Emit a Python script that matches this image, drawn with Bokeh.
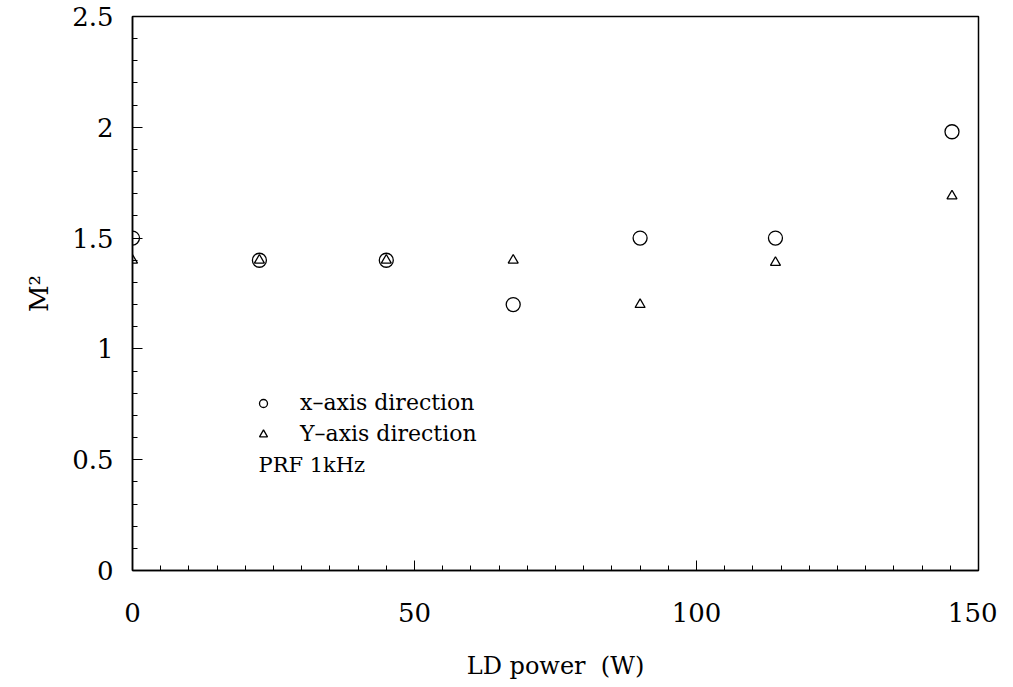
from bokeh.plotting import figure
from bokeh.models import Range1d, Legend, LegendItem, Label, FixedTicker
from bokeh.embed import file_html
from bokeh.resources import INLINE

# data
power_x = [0, 22.5, 45, 67.5, 90, 114, 145.3]
m2_x = [1.5, 1.4, 1.4, 1.2, 1.5, 1.5, 1.98]
power_y = [0, 22.5, 45, 67.5, 90, 114, 145.3]
m2_y = [1.4, 1.4, 1.4, 1.4, 1.2, 1.39, 1.69]
x_ticks = [0, 50, 100, 150]
y_ticks = [0, 0.5, 1, 1.5, 2, 2.5]
label_x = "x\u2013axis direction"
label_y = "Y\u2013axis direction"
note = "PRF 1kHz"

FONT = "DejaVu Serif"

p = figure(width=997, height=682, output_backend="svg", toolbar_location=None,
           x_range=Range1d(0, 150), y_range=Range1d(0, 2.5),
           min_border_left=132, min_border_top=16, min_border_right=19, min_border_bottom=111)
p.grid.visible = False
p.outline_line_color = "black"
p.outline_line_width = 1.5
p.background_fill_color = "white"
p.border_fill_color = "white"

r1 = p.scatter(power_x, m2_x, marker="circle", size=14, fill_color=None,
               line_color="black", line_width=1.3)
r2 = p.scatter(power_y, m2_y, marker="triangle", size=10, fill_color=None,
               line_color="black", line_width=1.3)

for ax in (p.xaxis[0], p.yaxis[0]):
    ax.axis_line_width = 1.5
    ax.axis_line_color = "black"
    ax.major_tick_in = 10
    ax.major_tick_out = 0
    ax.minor_tick_in = 5
    ax.minor_tick_out = 0
    ax.major_tick_line_color = "black"
    ax.minor_tick_line_color = "black"
    ax.major_label_text_font = FONT
    ax.major_label_text_font_size = "26px"
    ax.major_label_text_color = "black"
    ax.axis_label_text_font = FONT
    ax.axis_label_text_font_style = "normal"
    ax.axis_label_text_color = "black"

p.xaxis[0].ticker = FixedTicker(ticks=x_ticks, minor_ticks=[i * 5 for i in range(31)])
p.yaxis[0].ticker = FixedTicker(ticks=y_ticks, minor_ticks=[i / 10 for i in range(26)])
p.xaxis[0].major_label_standoff = 32
p.yaxis[0].major_label_standoff = 19
p.xaxis[0].axis_label = "LD power\u00a0\u00a0(W)"
p.xaxis[0].axis_label_text_font_size = "24px"
p.xaxis[0].axis_label_standoff = 27
p.yaxis[0].axis_label = "M\u00b2"
p.yaxis[0].axis_label_text_font_size = "26px"
p.yaxis[0].axis_label_standoff = 15

legend = Legend(items=[LegendItem(label=label_x, renderers=[r1]),
                       LegendItem(label=label_y, renderers=[r2])],
                location=(121, 124), padding=0, margin=0, spacing=6,
                glyph_width=20, glyph_height=20, label_height=20,
                label_standoff=27, border_line_color=None,
                background_fill_color=None,
                label_text_font=FONT, label_text_font_size="22px",
                label_text_color="black")
p.add_layout(legend)

p.add_layout(Label(x=126, y=106, x_units="screen", y_units="screen", text=note,
                   text_font=FONT, text_font_size="21px", text_baseline="middle",
                   text_color="black"))

open("out.html", "w").write(file_html(p, INLINE))
